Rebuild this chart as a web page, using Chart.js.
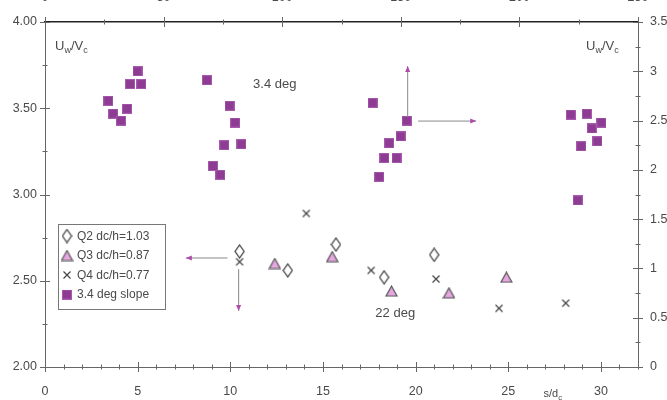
<!DOCTYPE html>
<html>
<head>
<meta charset="utf-8">
<script src="https://cdn.jsdelivr.net/npm/chart.js@4.4.0/dist/chart.umd.min.js"></script>
<style>
  html, body { margin: 0; padding: 0; background: #fff; }
  .chart-box { position: relative; width: 667px; height: 400px; }
</style>
</head>
<body>
<div class="chart-box"><canvas id="chart"></canvas></div>
<script>
(function () {
  "use strict";

  // bottom / left axes
  const q2X = [10.5, 13.1, 15.7, 18.3, 21.0];
  const q2Y = [2.67, 2.56, 2.71, 2.52, 2.65];
  const q3X = [12.4, 15.5, 18.7, 21.8, 24.9];
  const q3Y = [2.60, 2.64, 2.44, 2.43, 2.52];
  const q4X = [10.5, 14.1, 17.6, 21.1, 24.5, 28.1];
  const q4Y = [2.61, 2.89, 2.56, 2.51, 2.34, 2.37];

  // top / right axes
  const slopeX = [26.7, 28.7, 32.0, 34.6, 35.9, 40.6, 39.0,
                  68.3, 77.8, 80.2, 75.6, 82.8, 70.8, 73.9,
                  138.1, 152.5, 149.9, 145.1, 143.1, 148.2, 140.9,
                  221.7, 228.4, 234.6, 230.5, 232.9, 226.1, 224.6];
  const slopeY = [2.70, 2.57, 2.50, 2.62, 2.87, 2.87, 3.00,
                  2.91, 2.65, 2.48, 2.25, 2.26, 2.04, 1.95,
                  2.68, 2.50, 2.34, 2.27, 2.12, 2.12, 1.93,
                  2.56, 2.57, 2.48, 2.42, 2.29, 2.24, 1.69];

  const seriesLabels = ["Q2 dc/h=1.03", "Q3 dc/h=0.87", "Q4 dc/h=0.77", "3.4 deg slope"];

  const bottomTicks = [0, 5, 10, 15, 20, 25, 30];
  const topTicks = [0, 50, 100, 150, 200, 250];
  const leftTicks = [2.0, 2.5, 3.0, 3.5, 4.0];
  const rightTicks = [0, 0.5, 1, 1.5, 2, 2.5, 3, 3.5];

  // arrows: [xScale, yScale, x1, y1, x2, y2] in data units
  const arrows = [
    ["x", "y", 9.85, 2.632, 7.6, 2.632],
    ["x", "y", 10.45, 2.568, 10.45, 2.325],
    ["x2", "y2", 152.9, 2.535, 152.9, 3.053],
    ["x2", "y2", 157.3, 2.495, 181.8, 2.495]
  ];

  const FONT = "'Liberation Sans', Arial, sans-serif";
  const TEXT = "#4a4a4a";
  const AXIS = "#666";
  const PURPLE = "#8e3b94";

  const zip = (xs, ys) => xs.map((x, i) => ({ x: x, y: ys[i] }));

  function marker(w, h, draw) {
    const c = document.createElement("canvas");
    c.width = w;
    c.height = h;
    draw(c.getContext("2d"));
    return c;
  }

  const diamond = marker(11, 15, (g) => {
    g.strokeStyle = "#444";
    g.lineWidth = 1.3;
    g.beginPath();
    g.moveTo(5.5, 1); g.lineTo(10, 7.5); g.lineTo(5.5, 14); g.lineTo(1, 7.5);
    g.closePath();
    g.stroke();
  });

  const triangle = marker(13, 12, (g) => {
    g.fillStyle = "#e6a6df";
    g.strokeStyle = "#555";
    g.lineWidth = 1.2;
    g.beginPath();
    g.moveTo(6.5, 1); g.lineTo(12, 11); g.lineTo(1, 11);
    g.closePath();
    g.fill();
    g.stroke();
  });

  const cross = marker(10, 10, (g) => {
    g.strokeStyle = "#444";
    g.lineWidth = 1.2;
    g.beginPath();
    g.moveTo(1.5, 1.5); g.lineTo(8.5, 8.5);
    g.moveTo(8.5, 1.5); g.lineTo(1.5, 8.5);
    g.stroke();
  });

  const square = marker(10, 10, (g) => {
    g.fillStyle = PURPLE;
    g.fillRect(0, 0, 10, 10);
    g.strokeStyle = "#a55aab";
    g.lineWidth = 1;
    g.strokeRect(0.5, 0.5, 9, 9);
  });

  const symbols = [diamond, triangle, cross, square];

  const tickSteps = [
    ["x", 1, 5],
    ["x2", 25, 50],
    ["y", 0.25, 0.5],
    ["y2", 0.25, 0.5]
  ];

  const tickMarks = {
    id: "tickMarks",
    afterDraw(chart) {
      const { ctx, chartArea: a, scales } = chart;
      ctx.save();
      ctx.strokeStyle = AXIS;
      ctx.lineWidth = 1;
      tickSteps.forEach(([id, minor, major]) => {
        const s = scales[id];
        for (let v = s.min; v <= s.max + 1e-9; v += minor) {
          const isMajor = Math.abs(v / major - Math.round(v / major)) < 1e-6;
          const len = isMajor ? 5 : 2.5;
          const p = Math.round(s.getPixelForValue(v)) + 0.5;
          ctx.beginPath();
          if (s.isHorizontal()) {
            const y = id === "x" ? a.bottom : a.top;
            ctx.moveTo(p, y - len);
            ctx.lineTo(p, y + len);
          } else {
            const x = id === "y" ? a.left : a.right;
            ctx.moveTo(x - len, p);
            ctx.lineTo(x + len, p);
          }
          ctx.stroke();
        }
      });
      ctx.restore();
    }
  };

  function subText(ctx, parts, x, y, size) {
    parts.forEach(([str, sub]) => {
      ctx.font = (sub ? size * 0.7 : size) + "px " + FONT;
      ctx.fillText(str, x, sub ? y + size * 0.25 : y);
      x += ctx.measureText(str).width;
    });
  }

  const notes = {
    id: "notes",
    afterDraw(chart) {
      const { ctx, chartArea: a, scales } = chart;
      ctx.save();
      ctx.fillStyle = TEXT;
      ctx.textBaseline = "alphabetic";
      ctx.textAlign = "left";
      const uv = [["U", false], ["w", true], ["/V", false], ["c", true]];
      subText(ctx, uv, a.left + 10, a.top + 28, 13);
      subText(ctx, uv, a.right - 52, a.top + 28, 13);

      ctx.font = "13px " + FONT;
      ctx.textAlign = "center";
      ctx.textBaseline = "middle";
      ctx.fillText("3.4 deg", scales.x.getPixelForValue(12.4), scales.y.getPixelForValue(3.64));
      ctx.fillText("22 deg", scales.x.getPixelForValue(18.9), scales.y.getPixelForValue(2.313));

      ctx.textAlign = "left";
      ctx.textBaseline = "alphabetic";
      subText(ctx, [["s/d", false], ["c", true]], scales.x.getPixelForValue(26.9), a.bottom + 30, 11);

      arrows.forEach(([xs, ys, x1, y1, x2, y2]) => {
        const p1 = [scales[xs].getPixelForValue(x1), scales[ys].getPixelForValue(y1)];
        const p2 = [scales[xs].getPixelForValue(x2), scales[ys].getPixelForValue(y2)];
        ctx.strokeStyle = "#888";
        ctx.lineWidth = 1;
        ctx.beginPath();
        ctx.moveTo(p1[0], p1[1]);
        ctx.lineTo(p2[0], p2[1]);
        ctx.stroke();
        const ang = Math.atan2(p2[1] - p1[1], p2[0] - p1[0]);
        ctx.fillStyle = "#b04aa8";
        ctx.beginPath();
        ctx.moveTo(p2[0], p2[1]);
        ctx.lineTo(p2[0] - 6 * Math.cos(ang) + 2.5 * Math.sin(ang), p2[1] - 6 * Math.sin(ang) - 2.5 * Math.cos(ang));
        ctx.lineTo(p2[0] - 6 * Math.cos(ang) - 2.5 * Math.sin(ang), p2[1] - 6 * Math.sin(ang) + 2.5 * Math.cos(ang));
        ctx.closePath();
        ctx.fill();
      });
      ctx.restore();
    }
  };

  const boxLegend = {
    id: "boxLegend",
    afterDraw(chart) {
      const { ctx, chartArea: a } = chart;
      const left = a.left + 13;
      const top = 224;
      ctx.save();
      ctx.fillStyle = "#fff";
      ctx.fillRect(left, top, 107, 85);
      ctx.strokeStyle = "#777";
      ctx.lineWidth = 1;
      ctx.strokeRect(left + 0.5, top + 0.5, 107, 85);
      ctx.font = "12px " + FONT;
      ctx.textBaseline = "middle";
      ctx.textAlign = "left";
      ctx.fillStyle = TEXT;
      chart.data.datasets.forEach((ds, i) => {
        const cy = top + 12 + i * 19.5;
        const img = symbols[i];
        ctx.drawImage(img, left + 9 - img.width / 2, cy - img.height / 2);
        ctx.fillText(ds.label, left + 19, cy + 0.5);
      });
      ctx.restore();
    }
  };

  const tickFont = { family: FONT, size: 12.5 };

  function fixedTicks(values) {
    return (scale) => {
      scale.ticks = values.map((v) => ({ value: v }));
    };
  }

  new Chart(document.getElementById("chart"), {
    type: "scatter",
    data: {
      datasets: [
        { label: seriesLabels[0], data: zip(q2X, q2Y), pointStyle: diamond, xAxisID: "x", yAxisID: "y" },
        { label: seriesLabels[1], data: zip(q3X, q3Y), pointStyle: triangle, xAxisID: "x", yAxisID: "y" },
        { label: seriesLabels[2], data: zip(q4X, q4Y), pointStyle: cross, xAxisID: "x", yAxisID: "y" },
        { label: seriesLabels[3], data: zip(slopeX, slopeY), pointStyle: square, xAxisID: "x2", yAxisID: "y2" }
      ]
    },
    options: {
      responsive: true,
      maintainAspectRatio: false,
      animation: false,
      layout: { padding: 0 },
      plugins: {
        legend: { display: false },
        tooltip: { enabled: false }
      },
      scales: {
        x: {
          type: "linear", position: "bottom", min: 0, max: 32,
          grid: { display: false, drawTicks: false },
          border: { display: true, color: AXIS, width: 1 },
          afterBuildTicks: fixedTicks(bottomTicks),
          afterFit: (s) => { s.height = 33; },
          ticks: { color: TEXT, font: tickFont, padding: 17, maxRotation: 0, autoSkip: false }
        },
        x2: {
          type: "linear", position: "top", min: 0, max: 250,
          grid: { display: false, drawTicks: false },
          border: { display: true, color: "#222", width: 1.5 },
          afterBuildTicks: fixedTicks(topTicks),
          afterFit: (s) => { s.height = 22; },
          ticks: { color: TEXT, font: tickFont, padding: 17, maxRotation: 0, autoSkip: false }
        },
        y: {
          type: "linear", position: "left", min: 2, max: 4,
          grid: { display: false, drawTicks: false },
          border: { display: true, color: AXIS, width: 1 },
          afterBuildTicks: fixedTicks(leftTicks),
          afterFit: (s) => { s.width = 45; },
          ticks: { color: TEXT, font: tickFont, padding: 8, autoSkip: false, callback: (v) => Number(v).toFixed(2) }
        },
        y2: {
          type: "linear", position: "right", min: 0, max: 3.5,
          grid: { display: false, drawTicks: false },
          border: { display: true, color: AXIS, width: 1 },
          afterBuildTicks: fixedTicks(rightTicks),
          afterFit: (s) => { s.width = 29; },
          ticks: { color: TEXT, font: tickFont, padding: 12, autoSkip: false, callback: (v) => String(v) }
        }
      }
    },
    plugins: [tickMarks, notes, boxLegend]
  });
})();
</script>
</body>
</html>
